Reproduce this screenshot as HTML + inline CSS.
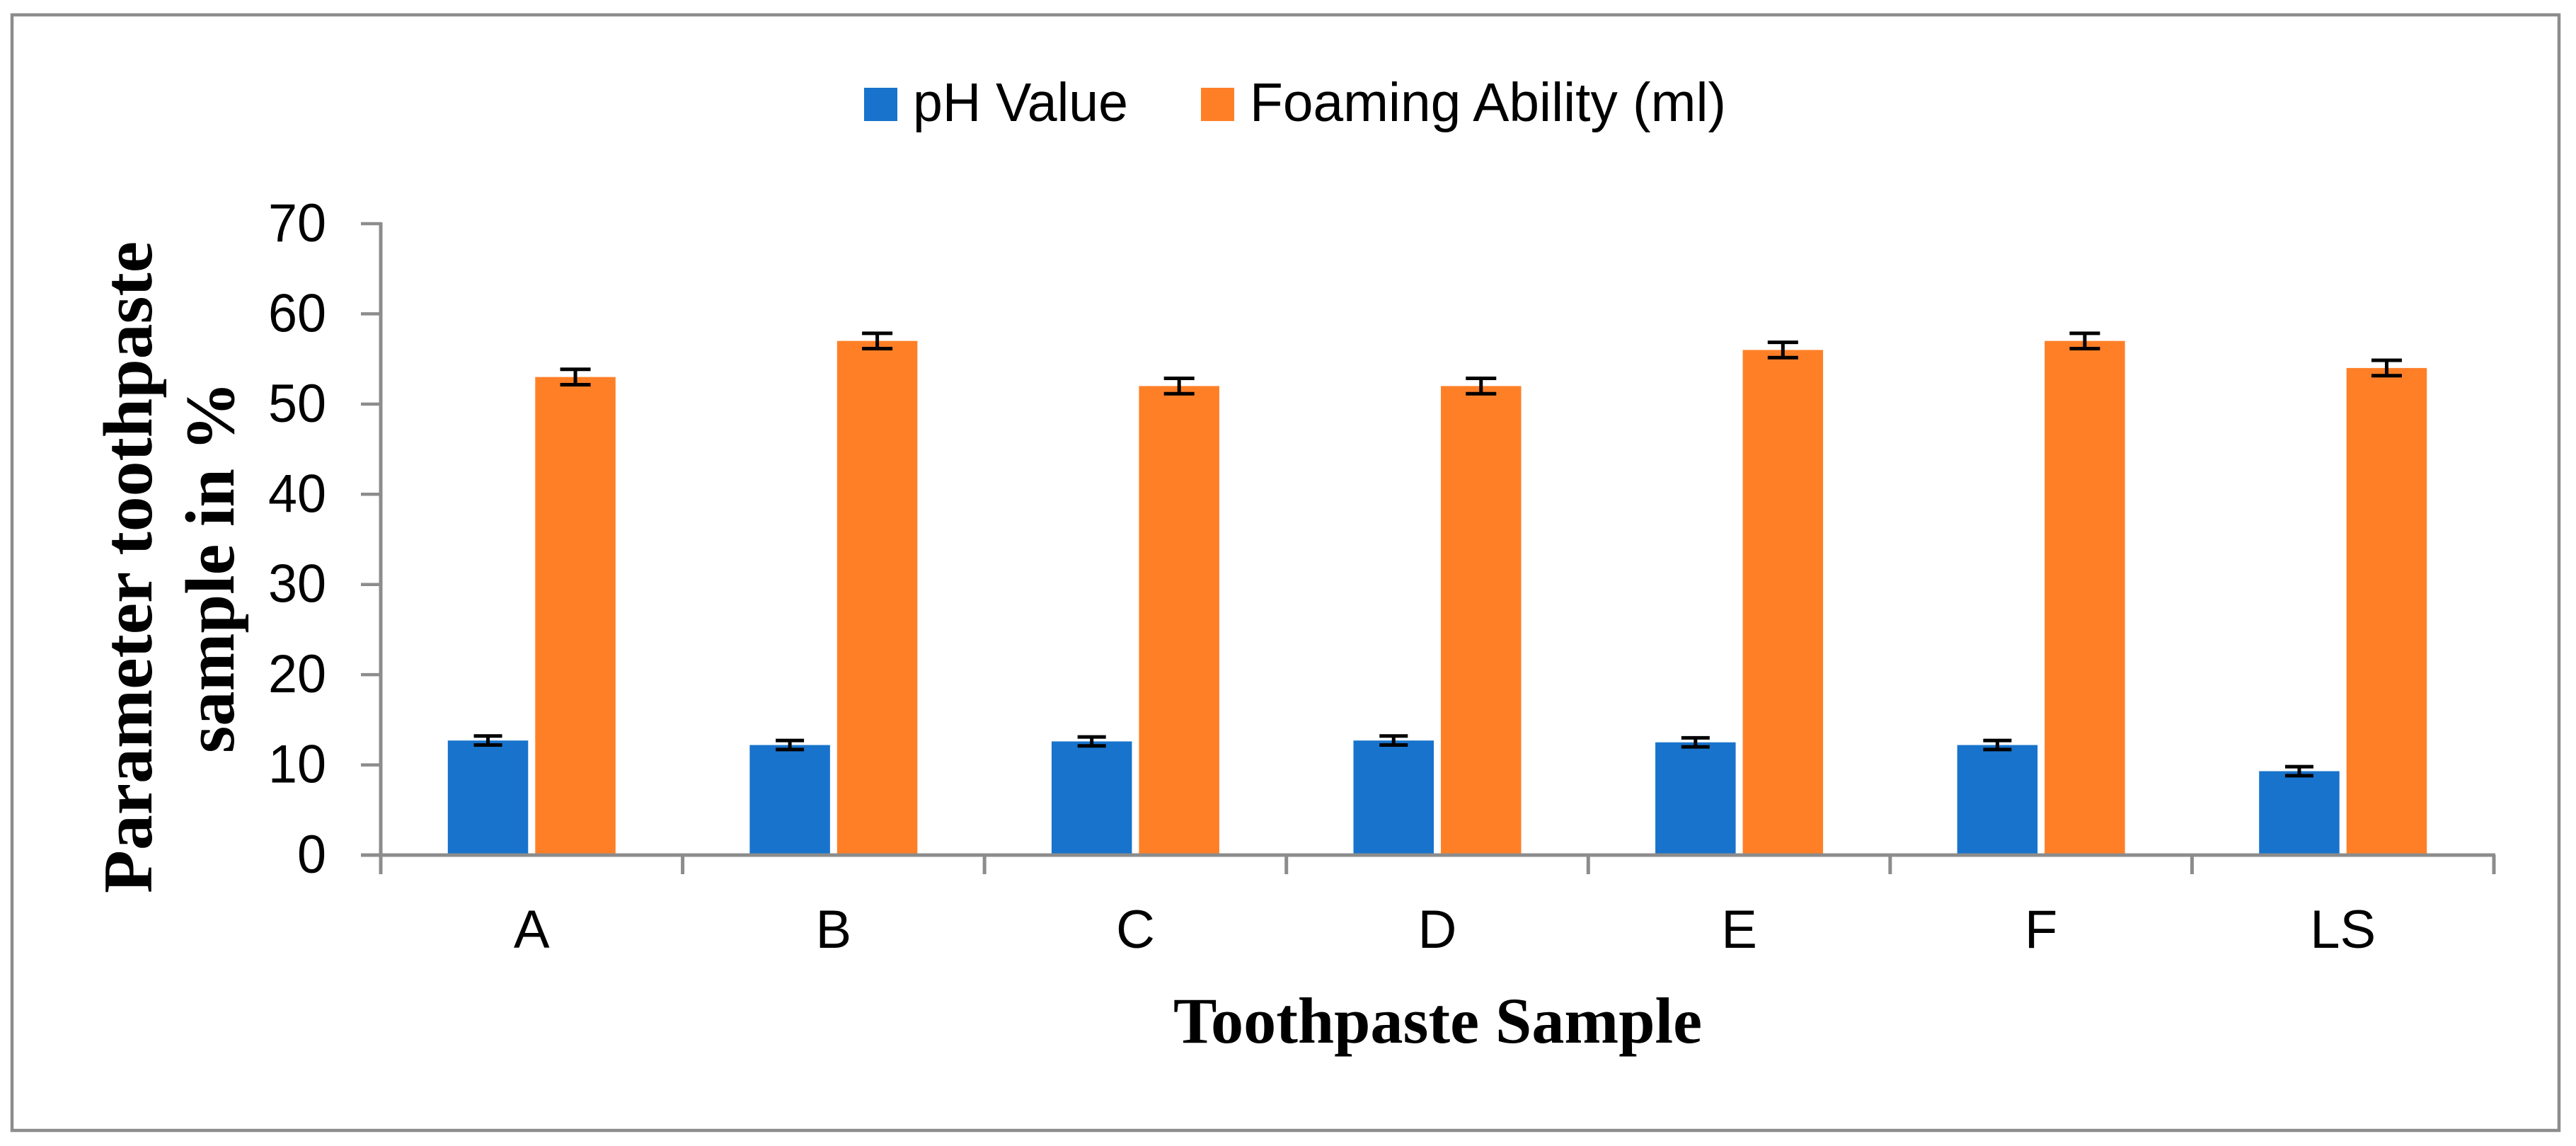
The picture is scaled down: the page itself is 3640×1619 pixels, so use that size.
<!DOCTYPE html>
<html lang="en">
<head>
<meta charset="utf-8">
<title>Toothpaste sample parameters</title>
<style>
html,body{margin:0;padding:0;background:#fff;width:3640px;height:1619px;overflow:hidden}
svg{display:block}
.sans{font-family:"Liberation Sans",sans-serif;fill:#000}
.serif{font-family:"Liberation Serif",serif;font-weight:bold;fill:#000}
</style>
</head>
<body>
<svg id="chart" xmlns="http://www.w3.org/2000/svg" width="3640" height="1619" viewBox="0 0 3640 1619">
  <rect x="0" y="0" width="3640" height="1619" fill="#fff"/>
  <rect x="17" y="21" width="3599" height="1576" fill="none" stroke="#8c8c8c" stroke-width="4.5"/>

  <g>
    <g>
      <rect x="1221" y="124" width="47" height="47" fill="#1873cc"/>
      <text class="sans" x="1290" y="171" font-size="77" textLength="304" lengthAdjust="spacingAndGlyphs">pH Value</text>
    </g>
    <g>
      <rect x="1697" y="124" width="47" height="47" fill="#ff7f27"/>
      <text class="sans" x="1766" y="171" font-size="77" textLength="673" lengthAdjust="spacingAndGlyphs">Foaming Ability (ml)</text>
    </g>
  </g>

  <g id="bars"></g>
  <g id="errors"></g>
  <g id="axes"></g>

  <g>
    <text class="serif" transform="translate(214 1262) rotate(-90)" font-size="99" textLength="921" lengthAdjust="spacingAndGlyphs">Parameter toothpaste</text>
    <text class="serif" transform="translate(330 1064) rotate(-90)" font-size="99" textLength="525" lengthAdjust="spacingAndGlyphs">sample in %</text>
  </g>
  <text class="serif" x="1658" y="1473" font-size="92" textLength="747" lengthAdjust="spacingAndGlyphs">Toothpaste Sample</text>
</svg>
<script>
const categories = ["A", "B", "C", "D", "E", "F", "LS"];
const phValues = [12.7, 12.2, 12.6, 12.7, 12.5, 12.2, 9.3];
const foamValues = [53, 57, 52, 52, 56, 57, 54];
const phErrors = [0.5, 0.5, 0.5, 0.5, 0.5, 0.5, 0.5];
const foamErrors = [0.85, 0.85, 0.85, 0.85, 0.85, 0.85, 0.85];
const yTicks = [0, 10, 20, 30, 40, 50, 60, 70];

const NS = "http://www.w3.org/2000/svg";
const plot = { left: 538, right: 3524, bottom: 1208, top: 316, yMax: 70 };
const barWidth = 113.5, barGap = 10;
const axisColor = "#8c8c8c";

function yScale(v) {
  return plot.bottom - (v / plot.yMax) * (plot.bottom - plot.top);
}
function bandWidth() {
  return (plot.right - plot.left) / categories.length;
}
function xCenter(i) {
  return plot.left + bandWidth() * (i + 0.5);
}
function make(tag, parent, attrs) {
  const el = document.createElementNS(NS, tag);
  for (const k in attrs) el.setAttribute(k, attrs[k]);
  parent.appendChild(el);
  return el;
}

const barsG = document.getElementById("bars");
const errG = document.getElementById("errors");
const axesG = document.getElementById("axes");

function drawBar(x, value, color, name) {
  const el = make("rect", barsG, { x: x, y: yScale(value), width: barWidth, height: plot.bottom - yScale(value), fill: color });
  
  
}

function drawError(cx, value, err, capW, name) {
  const yHi = yScale(value + err), yLo = yScale(value - err);
  const g = make("g", errG, { stroke: "#000", "stroke-width": 5, fill: "none" });
  
  
  make("line", g, { x1: cx, x2: cx, y1: yHi, y2: yLo });
  make("line", g, { x1: cx - capW / 2, x2: cx + capW / 2, y1: yHi, y2: yHi });
  make("line", g, { x1: cx - capW / 2, x2: cx + capW / 2, y1: yLo, y2: yLo });
}

categories.forEach(function (cat, i) {
  const c = xCenter(i);
  const xBlue = c - barGap / 2 - barWidth;
  const xOrange = c + barGap / 2;
  const id = cat.toLowerCase();
  drawBar(xBlue, phValues[i], "#1873cc", "bar-ph-" + id);
  drawBar(xOrange, foamValues[i], "#ff7f27", "bar-foaming-" + id);
  drawError(xBlue + barWidth / 2, phValues[i], phErrors[i], 40, "error-bar-ph-" + id);
  drawError(xOrange + barWidth / 2, foamValues[i], foamErrors[i], 43, "error-bar-foaming-" + id);
});

const yAxisLine = make("line", axesG, { x1: plot.left, x2: plot.left, y1: plot.top - 2, y2: plot.bottom + 27, stroke: axisColor, "stroke-width": 5 });



const xAxisLine = make("line", axesG, { x1: plot.left - 28, x2: plot.right + 2, y1: plot.bottom, y2: plot.bottom, stroke: axisColor, "stroke-width": 5 });



yTicks.forEach(function (t) {
  const y = yScale(t);
  if (t !== 0) {
    const tick = make("line", axesG, { x1: plot.left - 28, x2: plot.left, y1: y, y2: y, stroke: axisColor, "stroke-width": 4.5 });
    
    
  }
  const text = String(t);
  const label = make("text", axesG, { x: 461, y: y + 25, "text-anchor": "end", "font-size": 76, class: "sans", textLength: text.length * 41, lengthAdjust: "spacingAndGlyphs" });
  label.textContent = text;
  
  
});

for (let i = 1; i <= categories.length; i++) {
  const x = plot.left + bandWidth() * i;
  const tick = make("line", axesG, { x1: x, x2: x, y1: plot.bottom, y2: plot.bottom + 27, stroke: axisColor, "stroke-width": 5 });
  
  
}

categories.forEach(function (cat, i) {
  const label = make("text", axesG, { x: xCenter(i), y: 1339, "text-anchor": "middle", "font-size": 76, class: "sans" });
  label.textContent = cat;
  
  
});
</script>
</body>
</html>
